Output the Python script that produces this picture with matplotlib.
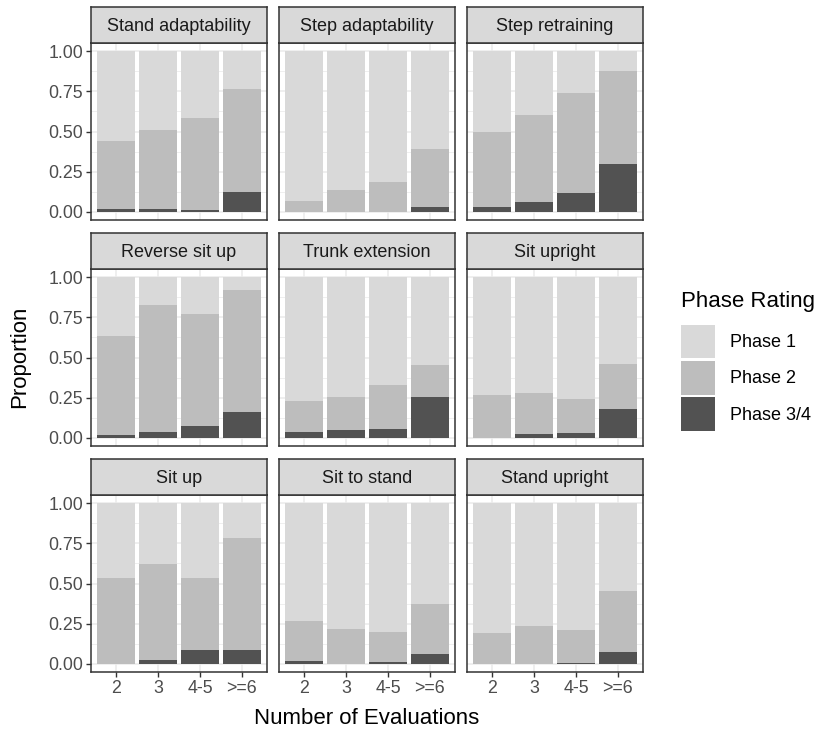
import numpy as np
import matplotlib
matplotlib.use("Agg")
import matplotlib.pyplot as plt
from matplotlib.patches import Patch

plt.rcParams['font.family'] = ['Liberation Sans', 'DejaVu Sans']

tasks = ["Stand adaptability", "Step adaptability", "Step retraining",
         "Reverse sit up", "Trunk extension", "Sit upright",
         "Sit up", "Sit to stand", "Stand upright"]
evals = ["2", "3", "4-5", ">=6"]
phases = ["Phase 1", "Phase 2", "Phase 3/4"]
colors = ["#D9D9D9", "#BDBDBD", "#525252"]

phase2 = [
    [0.419, 0.487, 0.567, 0.640],
    [0.070, 0.135, 0.184, 0.359],
    [0.465, 0.540, 0.621, 0.578],
    [0.615, 0.789, 0.695, 0.758],
    [0.193, 0.205, 0.273, 0.198],
    [0.267, 0.255, 0.211, 0.280],
    [0.534, 0.596, 0.447, 0.696],
    [0.248, 0.217, 0.187, 0.311],
    [0.193, 0.236, 0.205, 0.378],
]
phase34 = [
    [0.020, 0.020, 0.015, 0.122],
    [0.000, 0.000, 0.000, 0.030],
    [0.030, 0.060, 0.116, 0.296],
    [0.019, 0.037, 0.075, 0.161],
    [0.037, 0.050, 0.056, 0.255],
    [0.000, 0.025, 0.031, 0.180],
    [0.000, 0.025, 0.087, 0.087],
    [0.019, 0.000, 0.012, 0.062],
    [0.000, 0.000, 0.006, 0.075],
]

W, H = 822, 729
fig = plt.figure(figsize=(W / 100, H / 100), dpi=100)

col_x = [91, 279, 467]
row_y = [43, 269, 495]
pw, ph, sh = 176, 177, 36

x = np.arange(len(evals))
for k, task in enumerate(tasks):
    r, c = divmod(k, 3)
    ax = fig.add_axes([col_x[c] / W, 1 - (row_y[r] + ph) / H, pw / W, ph / H])
    p34 = np.array(phase34[k])
    p2 = np.array(phase2[k])
    p1 = 1 - p2 - p34
    ax.bar(x, p34, width=0.9, color=colors[2], zorder=2)
    ax.bar(x, p2, width=0.9, bottom=p34, color=colors[1], zorder=2)
    ax.bar(x, p1, width=0.9, bottom=p34 + p2, color=colors[0], zorder=2)
    ax.set_xlim(-0.6, 3.6)
    ax.set_ylim(-0.05, 1.05)
    ax.set_yticks([0, 0.25, 0.5, 0.75, 1.0])
    ax.set_yticks([0.125, 0.375, 0.625, 0.875], minor=True)
    ax.set_xticks(x)
    ax.grid(True, which='major', color='#EBEBEB', lw=1.1, zorder=0)
    ax.grid(True, which='minor', axis='y', color='#EBEBEB', lw=0.55, zorder=0)
    for s in ax.spines.values():
        s.set_color('#333333')
        s.set_linewidth(1.1)
    ax.tick_params(which='minor', length=0)
    ax.tick_params(which='major', length=3.7, width=1.0, color='#333333',
                   labelsize=12.8, labelcolor='#4D4D4D', pad=2)
    if c == 0:
        ax.set_yticklabels(["0.00", "0.25", "0.50", "0.75", "1.00"])
    else:
        ax.tick_params(axis='y', length=0, labelleft=False)
    if r == 2:
        ax.set_xticklabels(evals)
    else:
        ax.tick_params(axis='x', length=0, labelbottom=False)

    sax = fig.add_axes([col_x[c] / W, 1 - row_y[r] / H, pw / W, sh / H])
    sax.set_facecolor('#D9D9D9')
    sax.set_xticks([])
    sax.set_yticks([])
    for s in sax.spines.values():
        s.set_color('#333333')
        s.set_linewidth(1.1)
    sax.text(0.5, 0.45, task, ha='center', va='center', fontsize=13,
             color='#1A1A1A', transform=sax.transAxes)

fig.text(367 / W, 1 - 718 / H, "Number of Evaluations", ha='center', va='center',
         fontsize=16)
fig.text(20 / W, 1 - 357 / H, "Proportion", ha='center', va='center',
         rotation=90, fontsize=16)

handles = [Patch(facecolor=col, edgecolor='none') for col in colors]
leg = fig.legend(handles, phases, loc='upper left',
                 bbox_to_anchor=(681 / W, 1 - 291 / H), frameon=False,
                 fontsize=13, title="Phase Rating", title_fontsize=16,
                 handlelength=1.9, handleheight=2.5, labelspacing=0.15,
                 handletextpad=0.8, borderaxespad=0, borderpad=0)
leg._legend_box.align = "left"
leg._legend_box.sep = 9

fig.savefig("out.png", dpi=100)
